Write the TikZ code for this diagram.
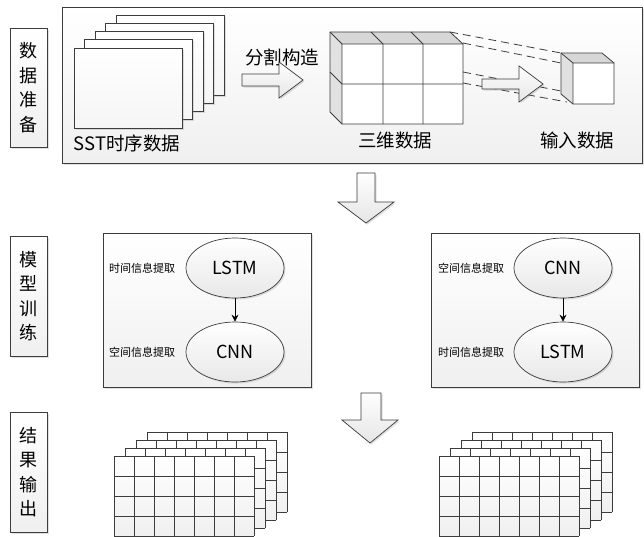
\documentclass[tikz,border=0pt]{standalone}
\usepackage{fontspec}
\setmainfont{Noto Sans CJK SC}
\usepackage{tikz}
\usetikzlibrary{shapes.geometric, arrows.meta, positioning, calc, shadows}
\definecolor{linegray}{RGB}{60,60,60}
\definecolor{sidegray}{RGB}{225,225,225}
\definecolor{topgray}{RGB}{215,215,215}
\tikzstyle{softshadow} = [drop shadow={opacity=0.25, shadow xshift=1.5pt, shadow yshift=-1.5pt}]
\tikzstyle{panel} = [rectangle, draw=linegray, line width=0.8pt, top color=white, bottom color=black!6, softshadow]
\tikzstyle{stagebox} = [panel, minimum width=37pt, minimum height=120pt, align=center, inner sep=0pt, font=\fontsize{18}{24.5}\selectfont]
\tikzstyle{page} = [rectangle, draw=linegray, line width=0.8pt, top color=white, bottom color=black!4, minimum width=108pt, minimum height=80pt, softshadow]
\tikzstyle{netnode} = [ellipse, draw=linegray, line width=0.7pt, top color=white, bottom color=black!9, minimum width=98pt, minimum height=60pt, font=\fontsize{18}{20}\selectfont, softshadow]
\tikzstyle{infolabel} = [font=\fontsize{11}{12}\selectfont, inner sep=0pt]
\tikzstyle{biglabel} = [font=\fontsize{18.5}{20}\selectfont, inner sep=0pt]
\tikzstyle{blockarrow} = [draw=linegray, line width=0.7pt, top color=white, bottom color=black!10, softshadow]
\tikzstyle{cubeline} = [draw=linegray, line width=0.8pt, line join=round]
\tikzstyle{dashline} = [linegray, line width=0.8pt, dash pattern=on 8pt off 5pt]
\tikzstyle{gridline} = [linegray, line width=0.7pt]
\tikzstyle{arrow} = [line width=0.8pt, -{Stealth[length=7pt,width=7pt]}]

\begin{document}
\begin{tikzpicture}[x=1pt, y=-1pt]
    \useasboundingbox (0,0) rectangle (644,536);

    % Stage labels
    \node[stagebox, minimum height=119pt] (prep) at (28.5, 87.5) {数\\据\\准\\备};
    \node[stagebox] (train) at (28.5, 296) {模\\型\\训\\练};
    \node[stagebox] (output) at (28.5, 472) {结\\果\\输\\出};

    % Data preparation
    \node[panel, minimum width=580pt, minimum height=156pt] (toppanel) at (352, 85) {};
    \foreach \i in {4,3,...,0}
        \node[page] (page\i) at ({128+10.5*\i}, {88-8.25*\i}) {};
    \node[biglabel] (sstlabel) at (127, 143) {SST时序数据};
    \node[biglabel] (splitlabel) at (282, 57) {分割构造};
    \draw[blockarrow] (242,74) -- (279,74) -- (279,62) -- (303,80) -- (279,98) -- (279,86) -- (242,86) -- cycle;

    % 3D data block
    \fill[sidegray] (330,32) -- (342,44) -- (342,124) -- (330,112) -- cycle;
    \fill[topgray] (330,32) -- (450,32) -- (463,44) -- (342,44) -- cycle;
    \fill[white] (342,44) rectangle (463,124);
    \draw[cubeline] (330,32) -- (450,32) -- (463,44) -- (463,124) -- (342,124) -- (330,112) -- cycle;
    \draw[cubeline] (330,32) -- (342,44) -- (463,44) (342,44) -- (342,124);
    \draw[cubeline] (342,84) -- (463,84) (342,84) -- (330,72);
    \foreach \x in {383,423}
        \draw[cubeline] (\x,44) -- (\x,124) (\x,44) -- (\x-12,32);
    \node[biglabel] (cubelabel) at (395, 140) {三维数据};

    % Input cube
    \fill[sidegray] (561,53) -- (573,63) -- (573,104) -- (561,94) -- cycle;
    \fill[topgray] (561,53) -- (602,53) -- (614,63) -- (573,63) -- cycle;
    \fill[white] (573,63) rectangle (614,104);
    \draw[cubeline] (561,53) -- (602,53) -- (614,63) -- (614,104) -- (573,104) -- (561,94) -- cycle;
    \draw[cubeline] (561,53) -- (573,63) -- (614,63) (573,63) -- (573,104);
    \node[biglabel] (inputlabel) at (577, 140) {输入数据};

    % Dashed projection
    \coordinate (b1) at (450,32);  \coordinate (c1) at (561,53);
    \coordinate (b2) at (463,43);  \coordinate (c2) at (561,63);
    \coordinate (b3) at (463,72);  \coordinate (c3) at (561,91);
    \coordinate (b4) at (463,83);  \coordinate (c4) at (567,102);
    \foreach \k in {1,...,4}
        \draw[dashline] (b\k) -- (c\k);
    \draw[blockarrow] (482,79) -- (519,79) -- (519,66) -- (543,84) -- (519,102) -- (519,89) -- (482,89) -- cycle;

    % Down arrows
    \draw[blockarrow] (357,173) -- (375,173) -- (375,202) -- (394,202) -- (366,223) -- (338,202) -- (357,202) -- cycle;
    \draw[blockarrow] (361,393) -- (381,393) -- (381,420) -- (398,420) -- (370,443) -- (342,420) -- (361,420) -- cycle;

    % Model training
    \node[panel, minimum width=208pt, minimum height=154pt] (leftpanel) at (207, 310) {};
    \node[panel, minimum width=208pt, minimum height=154pt] (rightpanel) at (535, 310) {};

    \node[netnode] (llstm) at (235, 268) {LSTM};
    \node[netnode] (lcnn) at (235, 352) {CNN};
    \node[infolabel] (ltime) at (142, 268) {时间信息提取};
    \node[infolabel] (lspace) at (142, 352) {空间信息提取};
    \draw[arrow] (llstm) -- (lcnn);

    \node[netnode] (rcnn) at (563, 268) {CNN};
    \node[netnode] (rlstm) at (563, 352) {LSTM};
    \node[infolabel] (rspace) at (471, 268) {空间信息提取};
    \node[infolabel] (rtime) at (471, 352) {时间信息提取};
    \draw[arrow] (rcnn) -- (rlstm);

    % Result grids
    \foreach \gx in {114, 439} {
        \foreach \s in {3,2,1,0} {
            \pgfmathsetmacro\ox{\gx+11*\s}
            \pgfmathsetmacro\oy{456-8*\s}
            \fill[top color=white, bottom color=black!6] (\ox,\oy) rectangle ++(140,80);
            \foreach \c in {0,...,7}
                \draw[gridline] (\ox+20*\c,\oy) -- ++(0,80);
            \foreach \r in {0,...,4}
                \draw[gridline] (\ox,\oy+20*\r) -- ++(140,0);
        }
    }
\end{tikzpicture}
\end{document}
